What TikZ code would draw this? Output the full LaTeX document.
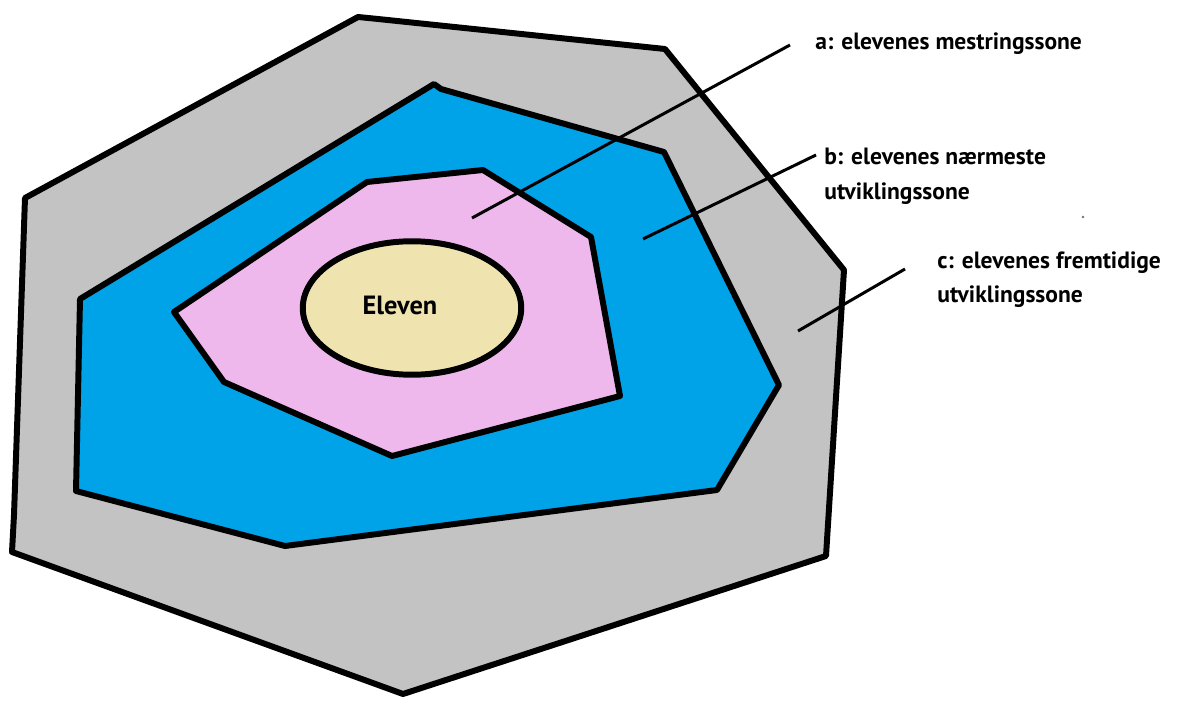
\documentclass[tikz,border=0pt]{standalone}
\usepackage{fontspec}
\setmainfont{PT Sans}
\usetikzlibrary{shapes.geometric}

\definecolor{zonegray}{RGB}{195,195,195}
\definecolor{zoneblue}{RGB}{0,162,232}
\definecolor{zonepink}{RGB}{239,184,236}
\definecolor{zonetan}{RGB}{239,228,176}

\tikzset{
  zone/.style={draw=black, line width=3.4pt, line join=round},
  pointer/.style={draw=black, line width=1.7pt},
  zonelabel/.style={anchor=north west, inner sep=0pt, align=left,
    font=\fontsize{13.4}{19.8}\selectfont\bfseries},
  student/.style={ellipse, draw=black, fill=zonetan, line width=3.4pt,
    minimum width=4.37cm, minimum height=2.67cm, inner sep=0pt}
}

\begin{document}
\begin{tikzpicture}[x=0.02cm, y=-0.02cm]
  \useasboundingbox (0,0) rectangle (1197,702);

  % zones, outer to inner
  \filldraw[zone, fill=zonegray] (358,17) -- (378,19) -- (665,49) -- (844,270)
    -- (826,556) -- (403,694) -- (12,552) -- (14,515) -- (25,198) -- cycle;
  \filldraw[zone, fill=zoneblue] (434,84) -- (441,89) -- (664,152) -- (779,385)
    -- (717,490) -- (285,546) -- (76,491) -- (80,299) -- cycle;
  \filldraw[zone, fill=zonepink] (367,182) -- (483,170) -- (591,237) -- (620,396)
    -- (392,456) -- (224,382) -- (174,312) -- cycle;

  \node[student] (eleven) at (412,308) {};
  \node[font=\fontsize{15}{18}\selectfont\bfseries] (elevenlbl) at (400,305) {Eleven};

  % labels
  \node[zonelabel] (lbla) at (815,32) {a: elevenes mestringssone};
  \node[zonelabel] (lblb) at (824,148) {b: elevenes nærmeste\\utviklingssone};
  \node[zonelabel] (lblc) at (937,251) {c: elevenes fremtidige\\utviklingssone};

  % pointers
  \coordinate (pa0) at (472,218);
  \coordinate (pa1) at (790,45);
  \coordinate (pb0) at (643,239);
  \coordinate (pb1) at (816,155);
  \coordinate (pc0) at (798,331);
  \coordinate (pc1) at (905,269);
  \draw[pointer] (pa0) -- (pa1);
  \draw[pointer] (pb0) -- (pb1);
  \draw[pointer] (pc0) -- (pc1);

  \fill[black!55] (1083,217) circle (0.8pt);
\end{tikzpicture}
\end{document}
